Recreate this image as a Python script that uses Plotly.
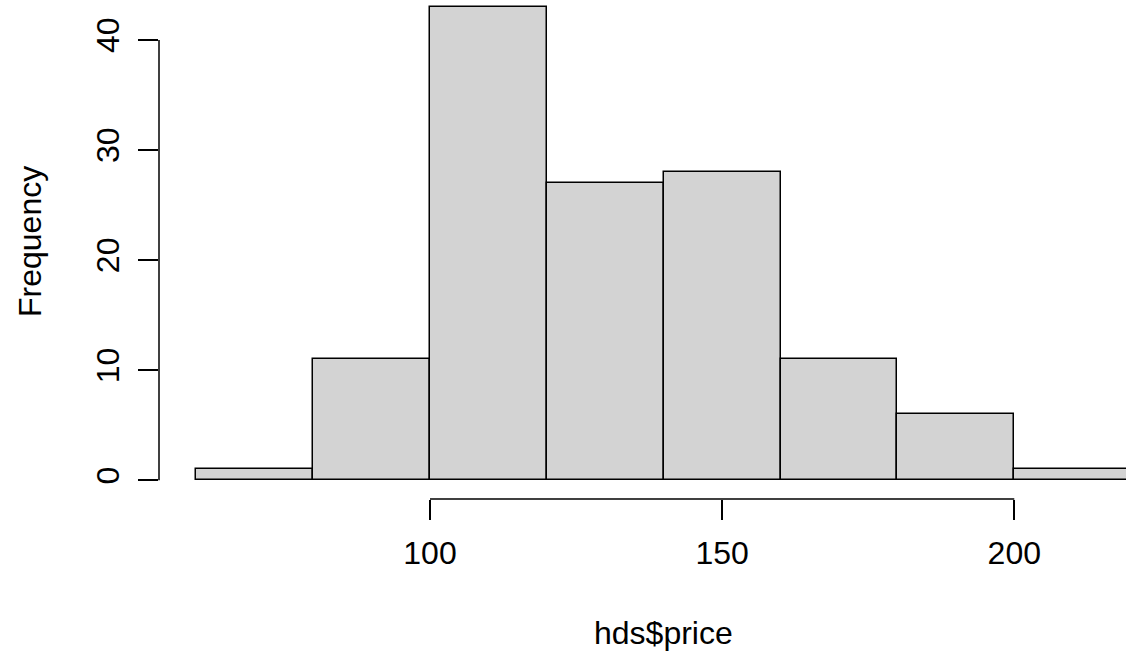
import plotly.graph_objects as go

# Data (histogram of hds$price)
bin_starts = [60, 80, 100, 120, 140, 160, 180, 200]
bin_width = 20
counts = [1, 11, 43, 27, 28, 11, 6, 1]
x_ticks = [100, 150, 200]
y_ticks = [0, 10, 20, 30, 40]
x_label = "hds$price"
y_label = "Frequency"

centers = [s + bin_width / 2 for s in bin_starts]

FONT = "Liberation Sans, Arial, sans-serif"
FS = 32
LW = 1.5

fig = go.Figure()
fig.add_trace(go.Bar(
    x=centers, y=counts, width=[bin_width] * len(counts),
    marker=dict(color="#D3D3D3", line=dict(color="black", width=LW)),
    hoverinfo="skip", showlegend=False,
))

W, H = 1126, 655
ml, mr, mt, mb = 159, 0, 0, 156
pw, ph = W - ml - mr, H - mt - mb

fig.update_layout(
    width=W, height=H,
    margin=dict(l=ml, r=mr, t=mt, b=mb, pad=0),
    paper_bgcolor="white", plot_bgcolor="white",
    font=dict(family=FONT, size=FS, color="black"),
    bargap=0,
    xaxis=dict(
        range=[53.62, 219.12], tickvals=x_ticks, ticktext=[str(v) for v in x_ticks],
        ticks="outside", ticklen=20, tickwidth=LW, tickcolor="black",
        showline=False, showgrid=False, zeroline=False, automargin=False,
        tickfont=dict(family=FONT, size=FS, color="black"),
        ticklabelstandoff=6,
    ),
    yaxis=dict(
        range=[-1.70, 43.63], tickvals=y_ticks, ticktext=[str(v) for v in y_ticks],
        ticks="outside", ticklen=20, tickwidth=LW, tickcolor="black",
        showline=False, showgrid=False, zeroline=False, automargin=False,
        tickangle=-90,
        tickfont=dict(family=FONT, size=FS, color="black"),
        ticklabelstandoff=6,
    ),
    shapes=[
        dict(type="line", xref="x", yref="paper", x0=min(x_ticks), x1=max(x_ticks),
             y0=0, y1=0, line=dict(color="black", width=LW), layer="above"),
        dict(type="line", xref="paper", yref="y", x0=0, x1=0,
             y0=min(y_ticks), y1=max(y_ticks), line=dict(color="black", width=LW), layer="above"),
    ],
    annotations=[
        dict(text=x_label, xref="paper", yref="paper",
             x=(663 - ml) / pw, y=(ph - (633 - mt)) / ph,
             xanchor="center", yanchor="middle", showarrow=False,
             font=dict(family=FONT, size=FS, color="black")),
        dict(text=y_label, xref="paper", yref="paper",
             x=(30 - ml) / pw, y=(ph - (242 - mt)) / ph,
             xanchor="center", yanchor="middle", showarrow=False, textangle=-90,
             font=dict(family=FONT, size=FS, color="black")),
    ],
)

fig.write_html("out.html")
